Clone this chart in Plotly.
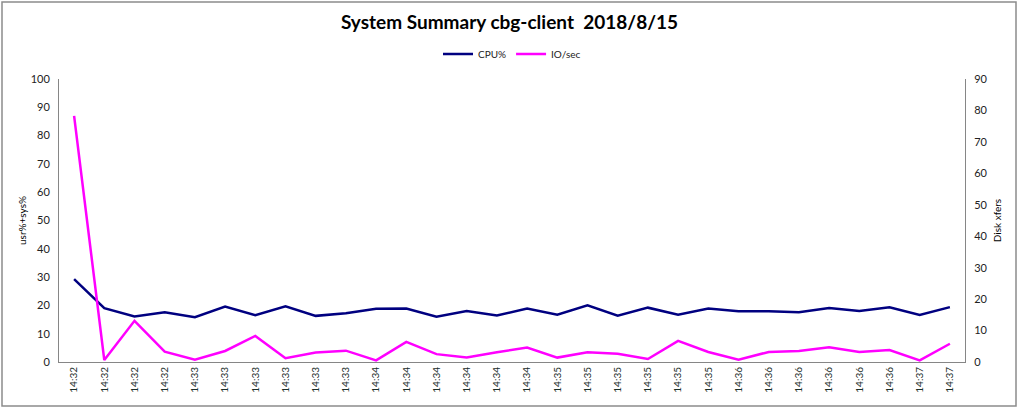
import plotly.graph_objects as go

# -------------------------------------
# DATA
# -------------------------------------
time_labels = ["14:32"] * 4 + ["14:33"] * 6 + ["14:34"] * 6 + ["14:35"] * 6 + ["14:36"] * 6 + ["14:37"] * 2

cpu_pct = [29.3, 19.0, 16.1, 17.6, 15.8, 19.6, 16.5, 19.7, 16.3, 17.2,
           18.8, 18.9, 16.0, 18.0, 16.4, 18.9, 16.7, 20.0, 16.4, 19.2,
           16.7, 18.9, 17.9, 17.9, 17.6, 19.1, 18.0, 19.3, 16.6, 19.4]

io_sec = [78.3, 0.6, 13.1, 3.3, 0.7, 3.5, 8.3, 1.2, 3.0, 3.6,
          0.5, 6.4, 2.5, 1.4, 3.1, 4.6, 1.4, 3.1, 2.6, 0.95,
          6.7, 3.2, 0.7, 3.2, 3.5, 4.7, 3.2, 3.8, 0.5, 5.8]

idx = list(range(len(time_labels)))

# -------------------------------------
# LAYOUT GEOMETRY (pixels of the 1019x409 page)
# -------------------------------------
W, H = 1019, 409
L, R, T, B = 59, 965, 79, 362
pw, ph = R - L, B - T

def px_x(x):
    return (x - L) / pw

def px_y(y):
    return (B - y) / ph

font_name = "Lato"
axis_grey = "#868686"

fig = go.Figure()

fig.add_trace(go.Scatter(x=idx, y=cpu_pct, name="CPU%", mode="lines",
                         line=dict(color="#000080", width=2.5)))
fig.add_trace(go.Scatter(x=idx, y=io_sec, name="IO/sec", mode="lines",
                         line=dict(color="#FF00FF", width=2.5), yaxis="y2"))

# chart area border
fig.add_shape(type="rect", xref="paper", yref="paper",
              x0=px_x(2), x1=px_x(1016), y0=px_y(406), y1=px_y(2),
              line=dict(color="#8c8c8c", width=1.5), layer="below")

fig.update_layout(
    width=W, height=H,
    margin=dict(l=L, r=W - R, t=T, b=H - B, pad=0),
    paper_bgcolor="white",
    plot_bgcolor="white",
    font=dict(family=font_name, color="#222222", size=11),
    title=dict(text="<b>System Summary cbg-client  2018/8/15</b>",
               x=0.5, xanchor="center", y=1 - 22 / H, yanchor="middle",
               font=dict(size=19, color="black", family=font_name)),
    legend=dict(orientation="h", x=0.5, xanchor="center",
                y=px_y(54), yanchor="middle",
                font=dict(size=10, color="#222222"),
                itemwidth=30, tracegroupgap=0,
                bgcolor="rgba(0,0,0,0)"),
    showlegend=True,
    xaxis=dict(
        tickmode="array", tickvals=idx, ticktext=time_labels,
        tickangle=-90, range=[-0.5, len(idx) - 0.5],
        showgrid=False, zeroline=False,
        showline=True, linecolor=axis_grey, linewidth=1,
        ticks="", tickfont=dict(size=10, color="#1a2e2a"),
    ),
    yaxis=dict(
        range=[0, 100], dtick=10, showgrid=False, zeroline=False,
        showline=True, linecolor=axis_grey, linewidth=1,
        ticks="", ticklabelstandoff=6,
        tickfont=dict(size=11, color="#222222"),
        title=dict(text="usr%+sys%", font=dict(size=10, color="black"), standoff=2),
    ),
    yaxis2=dict(
        range=[0, 90], dtick=10, overlaying="y", side="right",
        showgrid=False, zeroline=False,
        showline=True, linecolor=axis_grey, linewidth=1,
        ticks="", ticklabelstandoff=6,
        tickfont=dict(size=11, color="#222222"),
        title=dict(text="Disk xfers", font=dict(size=10, color="black"), standoff=7),
    ),
)

# drop the browser's default body margin so the figure sits at the page corner
fig.write_html("out.html", config={"displayModeBar": False},
               post_script="document.body.style.margin='0';")
